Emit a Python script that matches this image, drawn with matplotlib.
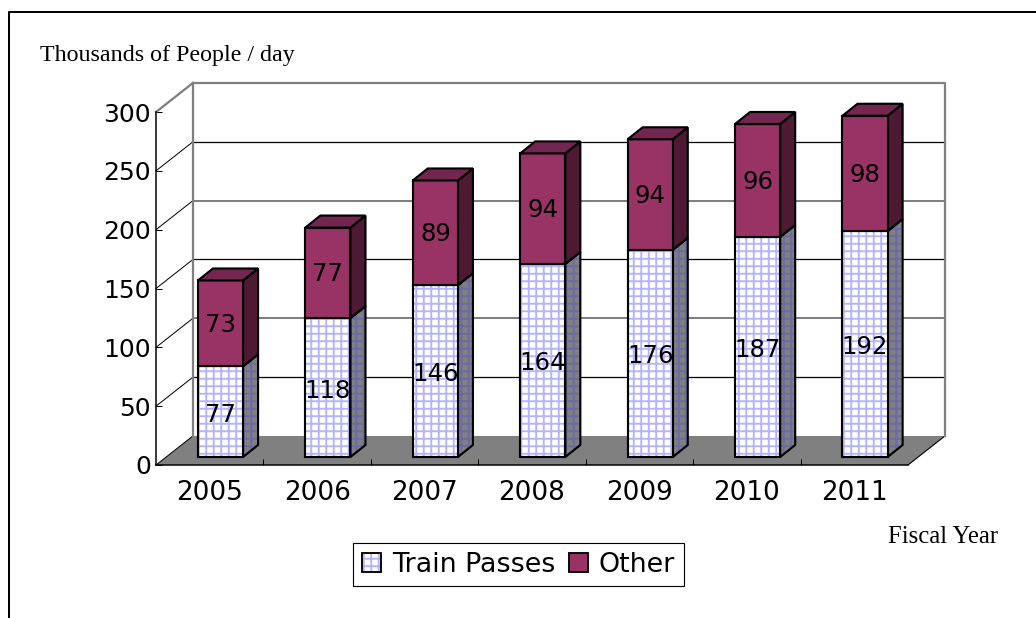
import matplotlib
matplotlib.use('Agg')
import matplotlib.pyplot as plt
from matplotlib.patches import Polygon, Rectangle
from matplotlib.lines import Line2D
from matplotlib.legend_handler import HandlerTuple

years = ['2005', '2006', '2007', '2008', '2009', '2010', '2011']
passes = [77, 118, 146, 164, 176, 187, 192]
other = [73, 77, 89, 94, 94, 96, 98]
y_ticks = [0, 50, 100, 150, 200, 250, 300]
grid_colors = ['#000000', '#808080', '#000000', '#808080', '#000000']

W, H = 1036, 618
DPI = 90
GOTHIC = 'DejaVu Sans'
SERIF = 'Liberation Serif'

plt.rcParams['hatch.linewidth'] = 1.5

# depth offsets, in data units
wall_dx, wall_dy = 0.344, 24.7
front_dx, front_dy = 0.10, 6.8
bar_dx, bar_dy = 0.14, 10.2
bar_w = 0.42


def draw_box(ax, x, y0, y1, face, hatch, side, side_hatch, top):
    left = x - bar_w / 2 + front_dx
    right = left + bar_w
    b = y0 + front_dy
    t = y1 + front_dy
    side_pts = [(right, b), (right + bar_dx, b + bar_dy), (right + bar_dx, t + bar_dy), (right, t)]
    ax.add_patch(Polygon(side_pts, facecolor=side, edgecolor=side_hatch, hatch=side_hatch and '++', lw=0,
                         clip_on=False, zorder=4))
    ax.add_patch(Polygon(side_pts, fill=False, edgecolor='black', lw=1.7, clip_on=False, zorder=4))
    ax.add_patch(Rectangle((left, b), bar_w, t - b, facecolor=face, edgecolor=hatch, hatch=hatch and '++', lw=0,
                           clip_on=False, zorder=4))
    ax.add_patch(Rectangle((left, b), bar_w, t - b, fill=False, edgecolor='black', lw=1.7, clip_on=False, zorder=4))
    if top:
        ax.add_patch(Polygon([(left, t), (right, t), (right + bar_dx, t + bar_dy), (left + bar_dx, t + bar_dy)],
                             facecolor=top, edgecolor='black', lw=1.7, clip_on=False, zorder=4))


fig = plt.figure(figsize=(W / DPI, H / DPI), dpi=DPI)
ax = fig.add_axes([156 / W, 1 - 465 / H, 752 / W, 353 / H])
ax.patch.set_visible(False)
ax.set_xlim(-0.5, 6.5)
ax.set_ylim(0, 300)

# floor
ax.add_patch(Polygon([(-0.5, 0), (6.5, 0), (6.5 + wall_dx, wall_dy), (-0.5 + wall_dx, wall_dy)],
                     facecolor='#808080', edgecolor='none', clip_on=False, zorder=1))
ax.plot([6.5, 6.5 + wall_dx], [0, wall_dy], color='black', lw=0.9, clip_on=False, zorder=1)

# walls and grid
for v, c in zip(y_ticks[1:-1], grid_colors):
    ax.plot([-0.5 + wall_dx, 6.5 + wall_dx], [v + wall_dy, v + wall_dy], color=c, lw=1.0 if c == '#000000' else 1.6,
            clip_on=False, zorder=2)
for v in y_ticks[:-1]:
    ax.plot([-0.5, -0.5 + wall_dx], [v, v + wall_dy], color='black', lw=0.8, clip_on=False, zorder=2)
ax.plot([-0.5, -0.5 + wall_dx], [300, 300 + wall_dy], color='#808080', lw=1.8, clip_on=False, zorder=2)
ax.plot([-0.5 + wall_dx, -0.5 + wall_dx], [wall_dy, 300 + wall_dy], color='#808080', lw=1.8, clip_on=False, zorder=2)
ax.plot([-0.5 + wall_dx, 6.5 + wall_dx, 6.5 + wall_dx], [300 + wall_dy, 300 + wall_dy, wall_dy],
        color='#808080', lw=1.8, clip_on=False, zorder=2)

# bars
for i in range(len(years)):
    draw_box(ax, i, 0, passes[i], 'white', '#b3b3ff', '#808080', '#6a6aa8', None)
    draw_box(ax, i, passes[i], passes[i] + other[i], '#993366', None, '#4d1933', None, '#732650')
    xc = i + front_dx
    ax.text(xc, passes[i] / 2 + front_dy - 2.5, str(passes[i]), ha='center', va='center', fontsize=19.5,
            family=GOTHIC, zorder=5)
    ax.text(xc, passes[i] + other[i] / 2 + front_dy - 1, str(other[i]), ha='center', va='center', fontsize=19.5,
            family=GOTHIC, zorder=5)

# axes
ax.spines['top'].set_visible(False)
ax.spines['right'].set_visible(False)
ax.spines['left'].set_linewidth(1.2)
ax.spines['bottom'].set_linewidth(1.2)
ax.set_xticks(range(len(years)))
ax.set_xticklabels(years, fontsize=21, family=GOTHIC)
ax.set_xticks([i - 0.5 for i in range(1, len(years))], minor=True)
ax.tick_params(axis='x', which='major', length=0, pad=12)
ax.tick_params(axis='x', which='minor', direction='in', length=5, width=0.8)
ax.set_yticks(y_ticks)
ax.set_yticklabels([str(v) for v in y_ticks], fontsize=20, family=GOTHIC)
ax.tick_params(axis='y', direction='in', length=5, width=0.8, pad=4)

# legend
handles = [(Rectangle((0, 0), 1, 1, facecolor='white', edgecolor='#b3b3ff', hatch='++', lw=0),
            Rectangle((0, 0), 1, 1, fill=False, edgecolor='black', lw=1.5)),
           Rectangle((0, 0), 1, 1, facecolor='#993366', edgecolor='black', lw=1.5)]
leg = fig.legend(handles, ['Train Passes', 'Other'], ncol=2, loc='center', bbox_to_anchor=(518.5 / W, 1 - 564.5 / H),
                 prop={'family': GOTHIC, 'size': 21.5}, fancybox=False, framealpha=1, edgecolor='black',
                 handlelength=0.72, handleheight=0.72, handletextpad=0.4, columnspacing=0.5,
                 borderpad=0.33, borderaxespad=0, handler_map={tuple: HandlerTuple(ndivide=1, pad=0)})
leg.get_frame().set_linewidth(0.9)

# captions
fig.text(40 / W, 1 - 55.5 / H, 'Thousands of People / day', family=SERIF, fontsize=19.2, va='center', ha='left')
fig.text(888 / W, 1 - 537 / H, 'Fiscal Year', family=SERIF, fontsize=19.8, va='center', ha='left')

# outer frame
fig.add_artist(Line2D([8.5 / W, 8.5 / W, 1], [0, 1 - 11.5 / H, 1 - 11.5 / H], color='black', lw=1.6))

plt.savefig('out.png', dpi=DPI)
